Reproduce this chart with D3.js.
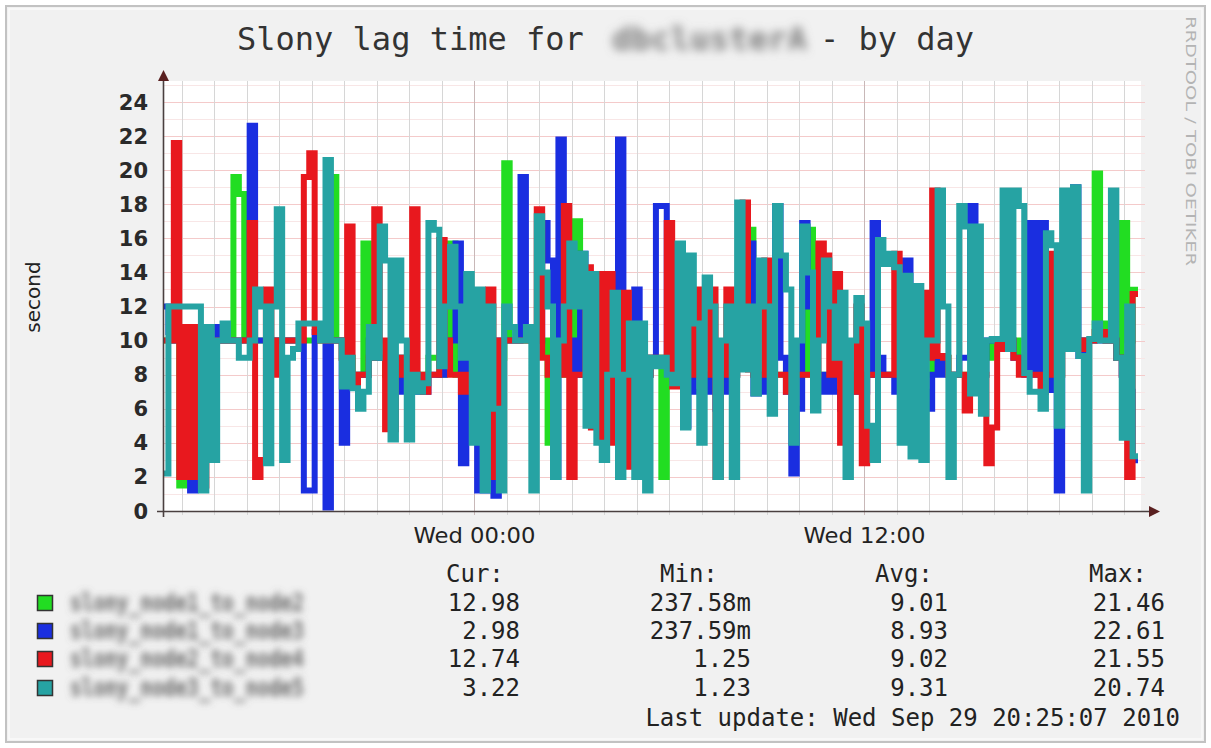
<!DOCTYPE html>
<html>
<head>
<meta charset="utf-8">
<title>Slony lag time - by day</title>
<script src="https://cdn.jsdelivr.net/npm/d3@7"></script>
<style>
  body { margin: 0; background: #fff; }
  text { font-family: "DejaVu Sans", sans-serif; }
  .mono { font-family: "DejaVu Sans Mono", monospace; }
</style>
</head>
<body>
<svg width="1211" height="748"></svg>
<script>
// 10 minute samples, Tue 14:25 -> Wed 20:25 (30 h)
var green = [
  10,10,10,1.5,10,10,10,10,10,10,
  10,10,10,19.6,18.6,10,10,10,10,10,
  10,10,10,10,10,10,10,10,10,10,
  10,19.6,10,9,9,8,8,15.7,9,9,
  9,8,8,8,9,8,8,8,8,9,
  9,8,9,15.7,8,8,8,8,8,8,
  9,8,9,20.4,10,10,10,10,10,10,
  10,4,9,9,8,8,17,8,8,8,
  8,8,8,8,8,8,8,8,8,8,
  9,9,2,9,8,8,8,8,8,8,
  8,8,8,8,8,8,9,9,16.5,8,
  8,8,8,8,8,8,8,8,8,16.5,
  8,8,8,8,8,8,8,8,8,8,
  8,8,8,8,8,8,8,8,8,8,
  8,8,9,9,9,8,8,8,8,8,
  8,8,9,10,10,10,10,10,9,9,
  9,9,8,8,8,8,10,10,10,10,
  10,10,19.8,11,10,10,9,16.9,10,12.98
];
var blue = [
  12,10.5,10,10,10,1.2,10,10,10.8,10.8,
  10,10,10,10,10,10,22.6,10,10,10,
  10,10,10,10,10,10,1.2,1.2,10.5,10.5,
  0.2,10,10,4,8,8,8,8,10,9,
  9,9,8,7,9,7,8,7,7,8,
  8,8,10,10,15.7,2.8,10,8,1.2,1.2,
  10,0.9,10,10,10,10,19.6,10.5,10,10,
  16.9,14.7,2,21.8,10,10,8,15.1,8,8,
  8,7,8,8,21.8,8,7,13,8,8,
  9,17.9,17.9,9,8.5,8,5,8,7,7,
  8,7,6,8,7,8,9,9,15.7,6.9,
  8,7,8,17.9,9,7,2.2,6,16.9,12,
  8,8,7,8,7,6,8,7,8,7,
  8,16.9,9,8,8,7,8,14.7,6,7,
  7,6,8,9,8,8,8,9,9,17.9,
  9,8,10,10,10,10,10,9,9,8,
  16.9,8,16.9,7.1,8,1.2,10,10,19,9.1,
  10,10,10,10,10,10,9,8,7,2.98
];
var red = [
  10,10,21.6,2,10.8,2,10.8,1.5,10,10,
  10,10,10,10,10,10,16.9,2,3,13,
  8,10,10,10,10,10,19.6,21,10.5,10,
  10,10,10,9,16.7,7.4,8,8,9,17.7,
  10,4.8,4.8,9,8,8,17.7,8,7,8,
  8,15.9,10,8,8,7,8,8,7,8,
  13,2,10,10,10,10,10,10,10,17.7,
  9,8,8,8,17.9,2,8,8,14.3,4.9,
  13.9,4,13.9,4,8,12.8,2.6,8,8,8,
  9,9,9,16.9,7.3,8,8,8,13,8,
  8,13,2,8,13,8,9,18.1,8.3,8,
  8,14.7,8,8,8,7,8,8,8,8,
  8,15.7,15,8,13.9,4,8,7,12,2.8,
  8,8,8,8,8,15.1,8,8,4.8,8,
  12.8,9,18.8,9.1,9,8,8,8,5.9,8,
  8,8,2.8,4.9,10,9.5,10,9,8,8,
  8,8,7,8,15.1,8,9.5,9.5,10,9.5,
  10,10,10.5,10.5,10,10,9,8,2,12.74
];
var teal = [
  2.2,12,12,12,12,12,12,1.2,10.8,3,
  10,11,10,10,9,9,10,13,12,2.8,
  12,17.7,3,9,9.5,11,11,11,11,10,
  20.6,10,10,7.3,9,7.2,6,7,10.8,9,
  16.7,14.7,4.2,14.7,10,4.2,8,7,7.5,16.9,
  16.5,8.5,12,15.5,12,9,13.9,4,13,1.2,
  12,6,1.2,12,10.8,10,10,10.8,1.2,17.3,
  14,12,2,10,12,15.7,12,15.1,5,13.9,
  4,3,8,12.8,2,8,11,2,11,1.2,
  9,8.5,9,8,7.5,15.7,4.9,15,11,4,
  13.7,12,2,10,12,2,18.1,8.3,12,6.9,
  14.7,12,5.7,17.9,15,13,4,10,16.7,14,
  5.9,10,14.7,12,9,12.8,2,10,12.5,11,
  5,3,15.9,14.5,15.1,14.3,4,13.8,3.2,13.2,
  3,10,10,18.8,12,2,8,17.9,16.7,6.9,
  16.7,5.7,10,10.1,10.1,18.8,9.5,18.8,17.9,8.1,
  7,7,6,16.3,15.6,5,18.8,9.5,19,9.1,
  1.2,10.1,11,10,10,18.8,9,4.3,12,3.22
];

var seriesNames = ["slony_node1_to_node2", "slony_node1_to_node3", "slony_node2_to_node4", "slony_node3_to_node5"];
var seriesColors = ["#22dd22", "#1a2ee0", "#e8181e", "#26a3a3"];
var statHeads = ["Cur:", "Min:", "Avg:", "Max:"];
var statCur = ["12.98", "2.98", "12.74", "3.22"];
var statMin = ["237.58m", "237.59m", "1.25", "1.23"];
var statAvg = ["9.01", "8.93", "9.02", "9.31"];
var statMax = ["21.46", "22.61", "21.55", "20.74"];
var yTicks = [0, 2, 4, 6, 8, 10, 12, 14, 16, 18, 20, 22, 24];
var startTime = new Date(2010, 8, 28, 14, 25, 7);
var stepMinutes = 10;

var svg = d3.select("svg");
var defs = svg.append("defs");
defs.append("filter").attr("id", "blur")
    .attr("x", "-20%").attr("y", "-60%").attr("width", "140%").attr("height", "220%")
  .append("feGaussianBlur").attr("stdDeviation", 5);
defs.append("filter").attr("id", "blur2")
    .attr("x", "-20%").attr("y", "-60%").attr("width", "140%").attr("height", "220%")
  .append("feGaussianBlur").attr("stdDeviation", 3.6);

var endTime = d3.timeMinute.offset(startTime, stepMinutes * green.length);
var x = d3.scaleTime().domain([startTime, endTime]).range([163, 1138]);
var y = d3.scaleLinear().domain([0, 24]).range([511, 102]);
var plotTop = 81, plotRight = 1141;

// frame
svg.append("rect").attr("x", 6).attr("y", 6).attr("width", 1199).attr("height", 736)
    .attr("fill", "#f1f1f1").attr("stroke", "#c2c2c2").attr("stroke-width", 2);
svg.append("rect").attr("x", 9).attr("y", 9).attr("width", 1193).attr("height", 730)
    .attr("fill", "none").attr("stroke", "#fafafa").attr("stroke-width", 1.5);

// plot canvas
svg.append("rect").attr("x", 163).attr("y", plotTop).attr("width", plotRight - 163).attr("height", 511 - plotTop)
    .attr("fill", "#fff");

// grid
var g = svg.append("g");
var yMaxVal = y.invert(plotTop);
g.selectAll(".hmin").data(d3.range(1, Math.floor(yMaxVal) + 1)).enter().append("line")
    .attr("x1", 163).attr("x2", plotRight + 4)
    .attr("y1", d => Math.round(y(d)) + 0.5).attr("y2", d => Math.round(y(d)) + 0.5)
    .attr("stroke", d => d % 2 === 0 ? "#f4caca" : "#f8e6e6").attr("stroke-width", 1);
var hours = x.ticks(d3.timeHour.every(1));
g.selectAll(".vmin").data(hours).enter().append("line")
    .attr("x1", d => Math.round(x(d)) + 0.5).attr("x2", d => Math.round(x(d)) + 0.5)
    .attr("y1", plotTop).attr("y2", 515)
    .attr("stroke", d => d.getHours() % 12 === 0 ? "#c8b8b8" : "#d6d6d6").attr("stroke-width", 1);

// series
var lineGen = d3.line()
    .x(d => x(d[0])).y(d => y(d[1]))
    .curve(d3.curveStepAfter);
[green, blue, red, teal].forEach(function(vals, k) {
  var pts = vals.map((v, i) => [d3.timeMinute.offset(startTime, i * stepMinutes), v]);
  pts.push([endTime, vals[vals.length - 1]]);
  svg.append("path").datum(pts)
      .attr("d", lineGen)
      .attr("fill", "none")
      .attr("stroke", seriesColors[k])
      .attr("stroke-width", 6)
      .attr("stroke-linejoin", "miter");
});

// axes
svg.append("line").attr("x1", 157).attr("x2", 1150).attr("y1", 511.5).attr("y2", 511.5)
    .attr("stroke", "#4a4040").attr("stroke-width", 1.6);
svg.append("line").attr("x1", 163.5).attr("x2", 163.5).attr("y1", 517).attr("y2", 80)
    .attr("stroke", "#4a4040").attr("stroke-width", 1.6);
svg.append("path").attr("d", "M1149,506 L1160,511.5 L1149,517 Z").attr("fill", "#5a2020");
svg.append("path").attr("d", "M158,81 L163.5,70 L169,81 Z").attr("fill", "#5a2020");

// y tick labels
svg.selectAll(".ylab").data(yTicks).enter().append("text")
    .attr("x", 148).attr("y", d => y(d))
    .attr("dy", "0.36em").attr("text-anchor", "end")
    .attr("font-size", 21).attr("font-weight", "bold").attr("fill", "#2a2a2a")
    .text(d => d);
svg.append("text").attr("transform", "translate(40,297) rotate(-90)")
    .attr("text-anchor", "middle").attr("font-size", 20).attr("fill", "#222")
    .text("second");

// x labels
var fmt = d3.timeFormat("%a %H:%M");
svg.selectAll(".xlab").data(hours.filter(d => d.getHours() % 12 === 0)).enter().append("text")
    .attr("x", d => x(d)).attr("y", 543).attr("text-anchor", "middle")
    .attr("font-size", 21).attr("fill", "#222")
    .attr("textLength", 122).attr("lengthAdjust", "spacingAndGlyphs")
    .text(d => fmt(d));

// title
var tSize = 32;
svg.append("text").attr("class", "mono").attr("x", 237).attr("y", 50)
    .attr("font-size", tSize).attr("fill", "#333").text("Slony lag time for");
svg.append("text").attr("class", "mono").attr("x", 612).attr("y", 50)
    .attr("font-size", tSize).attr("font-weight", "bold").attr("fill", "#7a7a7a").attr("filter", "url(#blur)")
    .attr("textLength", 195).attr("lengthAdjust", "spacingAndGlyphs").text("dbclusterA");
svg.append("text").attr("class", "mono").attr("x", 820).attr("y", 50)
    .attr("font-size", tSize).attr("fill", "#333").text("- by day");

// vertical credit
svg.append("text").attr("transform", "translate(1186,16) rotate(90)")
    .attr("font-size", 14).attr("fill", "#b4b4b4")
    .attr("textLength", 250).attr("lengthAdjust", "spacingAndGlyphs")
    .text("RRDTOOL / TOBI OETIKER");

// legend
var lSize = 24;
var headX = [446, 660, 875, 1089];
var valX = [520, 751, 948, 1165];
svg.selectAll(".lhead").data(statHeads).enter().append("text")
    .attr("class", "mono").attr("x", (d, i) => headX[i]).attr("y", 582)
    .attr("font-size", lSize).attr("fill", "#222").text(d => d);
var rowY = [603, 631, 659, 688];
var cols = [statCur, statMin, statAvg, statMax];
seriesNames.forEach(function(name, k) {
  svg.append("rect").attr("x", 37.5).attr("y", rowY[k] - 7.5).attr("width", 15).attr("height", 15)
      .attr("fill", seriesColors[k]).attr("stroke", "#333").attr("stroke-width", 1.5);
  svg.append("text").attr("class", "mono").attr("x", 70).attr("y", rowY[k] + 8)
      .attr("font-size", 24).attr("font-weight", "bold").attr("fill", "#666").attr("filter", "url(#blur2)")
      .attr("textLength", 234).attr("lengthAdjust", "spacingAndGlyphs").text(name);
  cols.forEach(function(col, c) {
    svg.append("text").attr("class", "mono").attr("x", valX[c]).attr("y", rowY[k] + 8)
        .attr("text-anchor", "end").attr("font-size", lSize).attr("fill", "#222").text(col[k]);
  });
});
svg.append("text").attr("class", "mono").attr("x", 1180).attr("y", 726)
    .attr("text-anchor", "end").attr("font-size", lSize).attr("fill", "#222")
    .text("Last update: Wed Sep 29 20:25:07 2010");
</script>
</body>
</html>
